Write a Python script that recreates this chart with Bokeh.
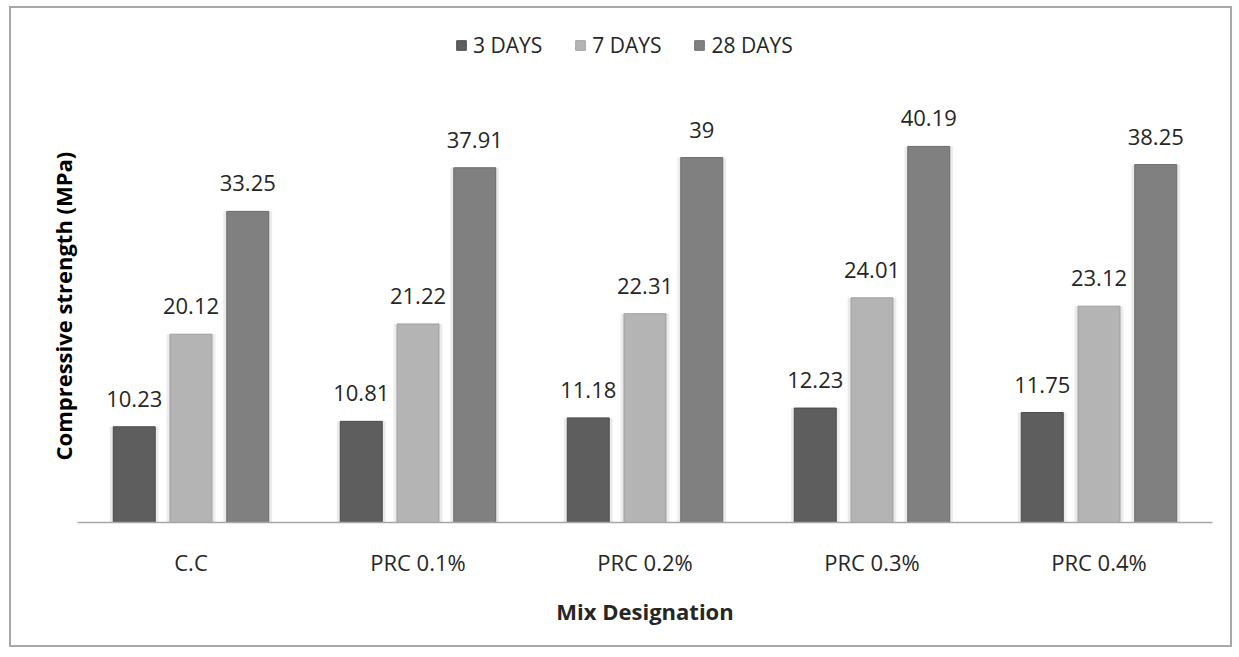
from bokeh.plotting import figure
from bokeh.models import (ColumnDataSource, LabelSet, Title, Range1d, FactorRange, Legend,
                          LegendItem)
from bokeh.core.properties import value
from bokeh.transform import dodge
from bokeh.embed import file_html
from bokeh.resources import INLINE

categories = ["C.C", "PRC 0.1%", "PRC 0.2%", "PRC 0.3%", "PRC 0.4%"]
series_names = ["3 DAYS", "7 DAYS", "28 DAYS"]
days3 = [10.23, 10.81, 11.18, 12.23, 11.75]
days7 = [20.12, 21.22, 22.31, 24.01, 23.12]
days28 = [33.25, 37.91, 39.00, 40.19, 38.25]

colors = ["#5e5e5e", "#b4b4b4", "#808080"]
edges = ["#4a4a4a", "#a0a0a0", "#6c6c6c"]
FONT = "Open Sans"

data = {"cat": categories, "d3": days3, "d7": days7, "d28": days28}
for k, vals in (("d3", days3), ("d7", days7), ("d28", days28)):
    data[k + "_lbl"] = [f"{v:g}" for v in vals]
src = ColumnDataSource(data)

p = figure(x_range=FactorRange(*categories, range_padding=0.0), y_range=Range1d(0, 52.9),
           width=1223, height=641, output_backend="svg", toolbar_location=None,
           min_border_left=66, min_border_right=22, min_border_top=19, min_border_bottom=127)
p.styles = {"border": "2px solid #a8a8a8", "box-sizing": "border-box", "margin": "6px 0 0 9px"}

offsets = [-0.25, 0.0, 0.25]
keys = ["d3", "d7", "d28"]
renderers = []
for key, off, c, e in zip(keys, offsets, colors, edges):
    p.vbar(x=dodge("cat", off, range=p.x_range), top=key, width=0.215, source=src,
           fill_color="#ebebeb", line_color=None)
    r = p.vbar(x=dodge("cat", off, range=p.x_range), top=key, width=0.185, source=src,
               fill_color=c, line_color=e, line_width=1)
    renderers.append(r)
    lbl = LabelSet(x=dodge("cat", off, range=p.x_range), y=key, text=key + "_lbl", source=src,
                   text_align="center", text_baseline="bottom", y_offset=20,
                   text_font=value(FONT), text_font_size="22px", text_color="#262626")
    p.add_layout(lbl)

legend = Legend(items=[LegendItem(label=n, renderers=[r]) for n, r in zip(series_names, renderers)],
                orientation="horizontal", location=(378, 463),
                label_text_font=FONT, label_text_font_size="21px", label_text_color="#262626",
                glyph_width=12, glyph_height=12, spacing=32, label_standoff=6,
                border_line_color=None, background_fill_alpha=0, padding=0, margin=0)
p.add_layout(legend)

# y-axis title on the left side
ytitle = Title(text="Compressive strength (MPa)", align="left", offset=62,
               text_font=FONT, text_font_size="22px", text_font_style="bold",
               text_color="#000000", standoff=0)
p.add_layout(ytitle, "left")

p.xgrid.grid_line_color = None
p.ygrid.grid_line_color = None
p.outline_line_color = None

p.xaxis.axis_line_color = "#a6a6a6"
p.xaxis.axis_line_width = 1.5
p.xaxis.major_tick_line_color = None
p.xaxis.minor_tick_line_color = None
p.xaxis.major_label_text_font = FONT
p.xaxis.major_label_text_font_size = "22px"
p.xaxis.major_label_text_color = "#262626"
p.xaxis.major_label_standoff = 18
p.xaxis.axis_label = "Mix Designation"
p.xaxis.axis_label_text_font = FONT
p.xaxis.axis_label_text_font_size = "22px"
p.xaxis.axis_label_text_font_style = "bold"
p.xaxis.axis_label_text_color = "#262626"
p.xaxis.axis_label_standoff = 16

p.yaxis.visible = False

open("out.html", "w").write(file_html(p, INLINE))
